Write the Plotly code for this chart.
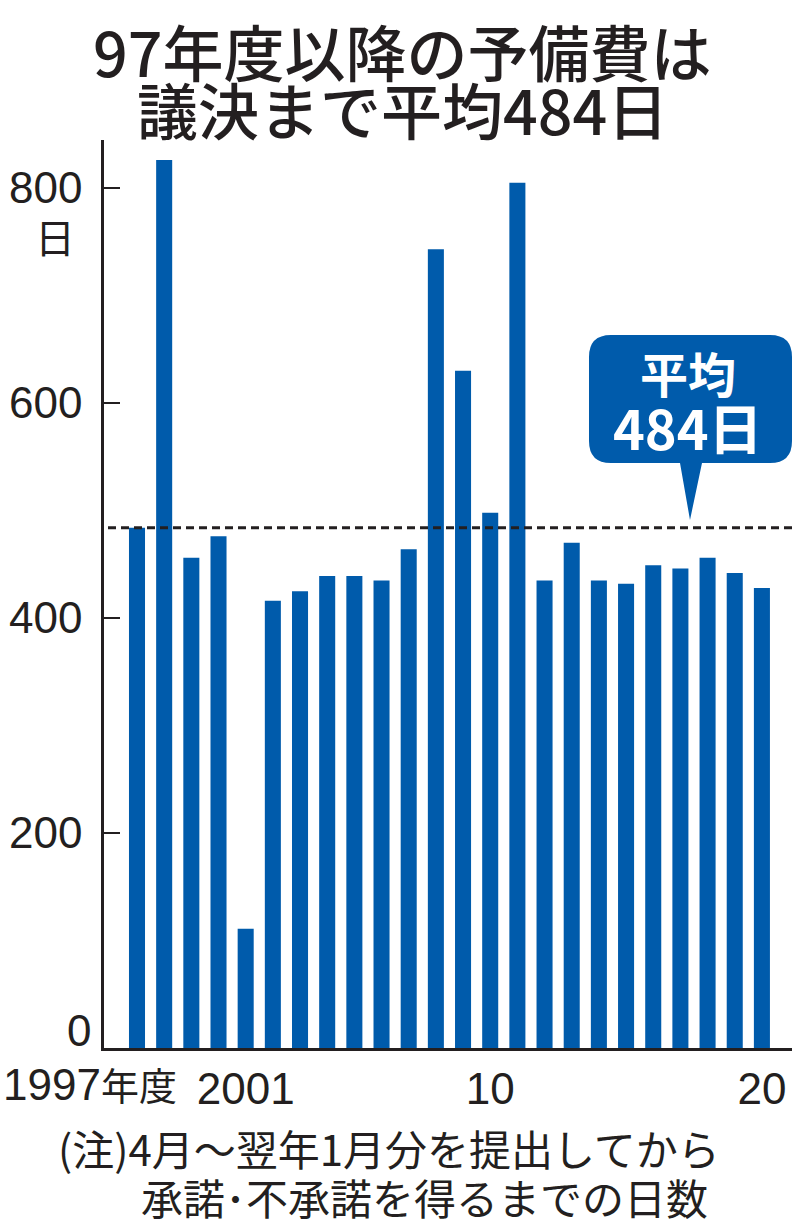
import plotly.graph_objects as go

# ---- data ----
years = list(range(1997, 2021))
days = [484, 826, 456, 476, 111, 416, 425, 439, 439, 435, 464, 743,
        630, 498, 805, 435, 470, 435, 432, 449, 446, 456, 442, 428]
AVERAGE = 484
y_tickvals = [200, 400, 600, 800]
y_zero_label = "0"
x_tickvals = [2001, 2010, 2020]
x_ticktext = ["2001", "10", "20"]
first_label = ["1997", "年度"]
title_lines = ["97年度以降の予備費は", "議決まで平均484日"]
note_lines = ["(注)4月～翌年1月分を提出してから", "承諾･不承諾を得るまでの日数"]
unit_label = "日"

BLUE = "#005bab"
INK = "#231f20"
NUM_FONT = "Liberation Sans Narrow, Arial Narrow, Liberation Sans, sans-serif"
CJK_FONT = "Noto Sans CJK JP, sans-serif"
NUM_SIZE = 44

# plot area in pixels
PL, PR, PT, PB = 104, 792, 140, 1048
W, H = 804, 1227


def P(X, Y):
    return ((X - PL) / (PR - PL), (PB - Y) / (PB - PT))


fig = go.Figure()
fig.add_trace(go.Bar(x=years, y=days, marker=dict(color=BLUE, line=dict(width=0)),
                     hoverinfo="x+y"))

# callout path
L, R, T, B, r = 589, 792, 335, 463, 22
pts = [("M", (L + r, T)), ("L", (R - r, T)), ("Q", (R, T), (R, T + r)), ("L", (R, B - r)),
       ("Q", (R, B), (R - r, B)), ("L", (702, B)), ("L", (690, 520)), ("L", (680, B)),
       ("L", (L + r, B)), ("Q", (L, B), (L, B - r)), ("L", (L, T + r)), ("Q", (L, T), (L + r, T))]
path = ""
for seg in pts:
    cmd = seg[0]
    coords = " ".join("%.5f,%.5f" % P(*c) for c in seg[1:])
    path += f"{cmd} {coords} "
path += "Z"

shapes = [
    dict(type="line", xref="paper", yref="y", x0=P(108, 0)[0], x1=P(793, 0)[0],
         y0=AVERAGE, y1=AVERAGE, line=dict(color=INK, width=3, dash="8px,5px")),
    dict(type="path", xref="paper", yref="paper", path=path,
         fillcolor=BLUE, line=dict(width=0)),
]

annotations = []
for txt, cy in zip(title_lines, [50, 109]):
    annotations.append(dict(text=txt, xref="paper", yref="paper", x=P(402, cy)[0], y=P(402, cy)[1],
                            xanchor="center", yanchor="middle", showarrow=False,
                            font=dict(family=CJK_FONT, size=61, color=INK, weight=500)))
for txt, (lx, cy) in zip(note_lines, [(56, 1147), (139, 1196)]):
    annotations.append(dict(text=txt, xref="paper", yref="paper", x=P(lx, cy)[0], y=P(lx, cy)[1],
                            xanchor="left", yanchor="middle", showarrow=False,
                            font=dict(family=CJK_FONT, size=42, color=INK)))
annotations.append(dict(text=unit_label, xref="paper", yref="paper", x=P(55, 236)[0], y=P(55, 236)[1],
                        xanchor="center", yanchor="middle", showarrow=False,
                        font=dict(family=CJK_FONT, size=40, color=INK)))
annotations.append(dict(text="平均", xref="paper", yref="paper", x=P(688, 372)[0], y=P(688, 372)[1],
                        xanchor="center", yanchor="middle", showarrow=False,
                        font=dict(family=CJK_FONT, size=48, color="white", weight=700)))
annotations.append(dict(text=f"{AVERAGE}日", xref="paper", yref="paper", x=P(688, 427)[0], y=P(688, 427)[1],
                        xanchor="center", yanchor="middle", showarrow=False,
                        font=dict(family=CJK_FONT, size=54, color="white", weight=700)))
annotations.append(dict(text=f"{first_label[0]}<span style='font-family:Noto Sans CJK JP;font-size:38px'>{first_label[1]}</span>",
                        xref="x", yref="paper", x=years[0], y=P(0, 1083)[1],
                        xanchor="right", yanchor="middle", xshift=42, showarrow=False,
                        font=dict(family=NUM_FONT, size=NUM_SIZE, color=INK)))
annotations.append(dict(text=y_zero_label, xref="paper", yref="y", x=P(93, 0)[0], y=0,
                        xanchor="right", yanchor="middle", yshift=18, showarrow=False,
                        font=dict(family=NUM_FONT, size=NUM_SIZE, color=INK)))

px_per_year = 27.17
x0 = years[0] - (137 - PL) / px_per_year
x1 = years[0] + (PR - 137) / px_per_year
y_top = (1047 - PT) / 1.07375

fig.update_layout(
    width=W, height=H,
    margin=dict(l=PL, r=W - PR, t=PT, b=H - PB, pad=0),
    paper_bgcolor="white", plot_bgcolor="white",
    showlegend=False, bargap=0.41,
    shapes=shapes, annotations=annotations,
    xaxis=dict(range=[x0, x1], tickvals=x_tickvals, ticktext=x_ticktext, automargin=False,
               showgrid=False, zeroline=False, showline=True, linecolor=INK, linewidth=2.5,
               ticks="", tickfont=dict(family=NUM_FONT, size=NUM_SIZE, color=INK)),
    yaxis=dict(range=[0, y_top], tickvals=y_tickvals, showgrid=False, zeroline=False,
               automargin=False,
               showline=True, linecolor=INK, linewidth=2.5, ticks="inside", ticklen=16,
               tickwidth=2, tickcolor=INK, ticklabelstandoff=10,
               tickfont=dict(family=NUM_FONT, size=NUM_SIZE, color=INK)),
)

fig.write_html("out.html", config={"displayModeBar": False},
               post_script="document.body.style.margin='0';document.body.style.padding='0';")
